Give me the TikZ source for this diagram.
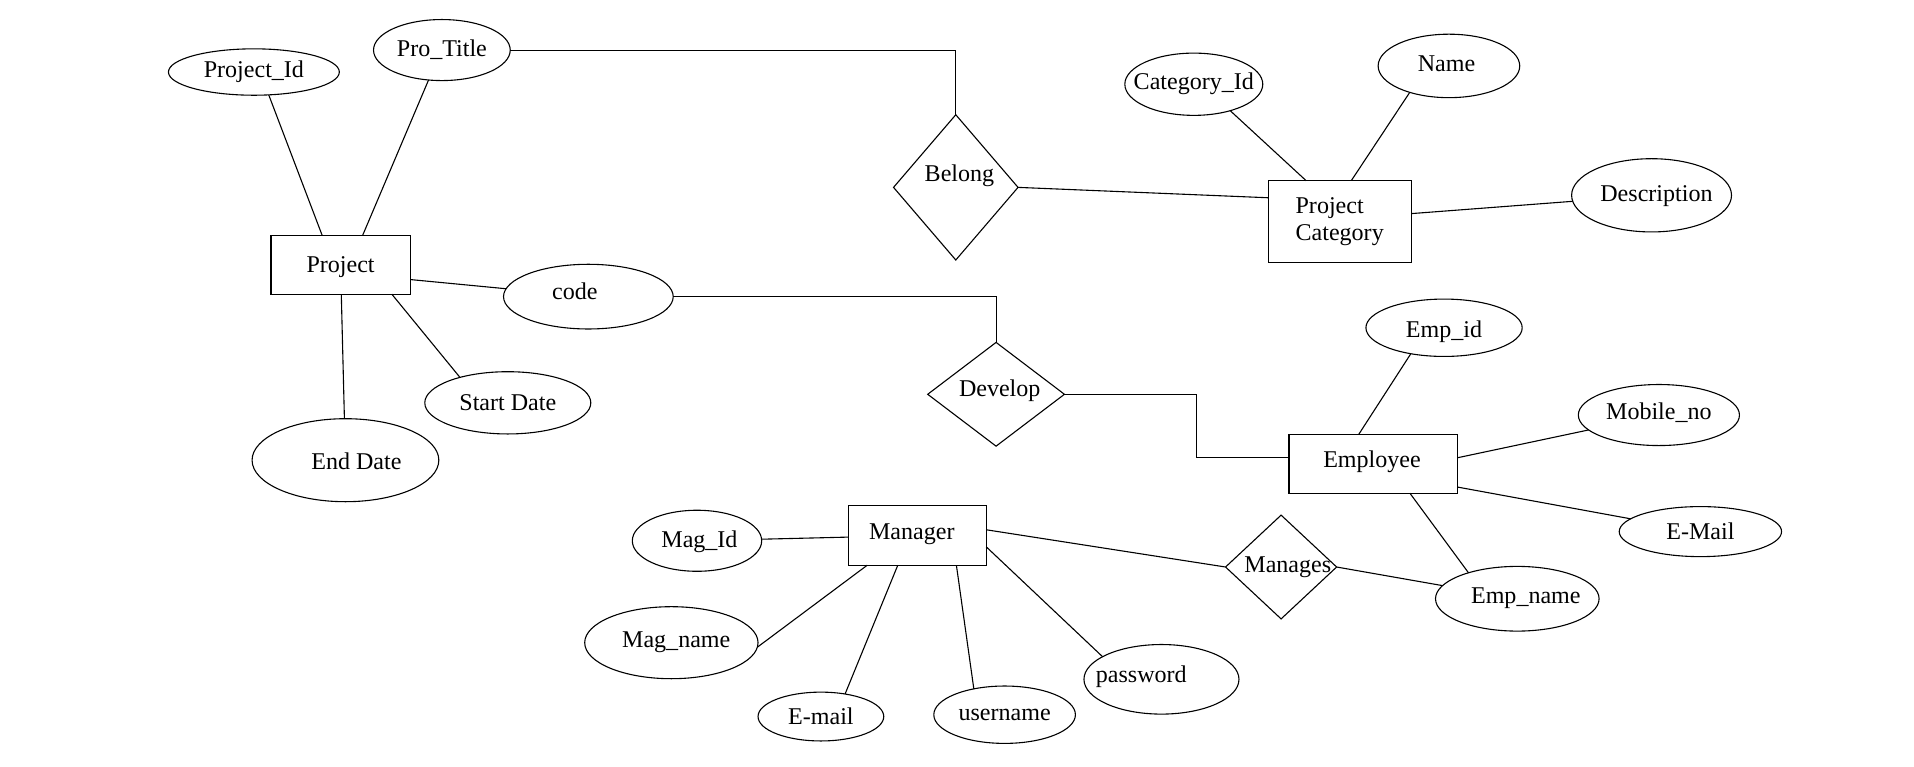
\documentclass[tikz,border=0pt]{standalone}
\usepackage{fontspec}
\setmainfont{Liberation Serif}
\usetikzlibrary{shapes.geometric}
\newdimen\ux \ux=0.5pt
\begin{document}
\begin{tikzpicture}[x=0.5pt,y=-0.5pt,
  every node/.style={font=\fontsize{9.85}{11}\selectfont, inner sep=0pt, outer sep=0pt},
  ln/.style={line width=0.45pt},
  sz/.style 2 args={minimum width=#1\ux, minimum height=#2\ux},
  attr/.style={draw, ellipse, line width=0.45pt},
  ent/.style={draw, rectangle, line width=0.45pt},
  rel/.style={draw, diamond, line width=0.45pt}
]
\useasboundingbox (0,0) rectangle (1568,628);

% Project and its attributes
\node[attr,sz={140}{38}] (pid) at (208,59) {Project\_Id};
\node[attr,sz={112}{50}] (ptitle) at (362,41) {Pro\_Title};
\node[ent,sz={114}{48}] (project) at (279,217) {};
\node (project-t) at (279,219) {Project};
\node[attr,sz={139}{53}] (code) at (482,243) {};
\node (code-t) at (471,239) {code};
\node[attr,sz={136}{51}] (sdate) at (416,330) {Start Date};
\node[attr,sz={153}{68}] (edate) at (283,377) {};
\node (edate-t) at (292,378) {End Date};

% Project category
\node[rel,sz={102}{119}] (belong) at (783,153.5) {};
\node (belong-t) at (786,144) {Belong};
\node[ent,sz={117}{67},align=left] (pcat) at (1097.5,181.5) {Project\\Category};
\node[attr,sz={113}{51}] (catid) at (978,69) {\makebox[0pt]{Category\_Id}};
\node[attr,sz={116}{52}] (name) at (1187,54) {};
\node (name-t) at (1185,52) {Name};
\node[attr,sz={131}{60}] (desc) at (1353,160) {};
\node (desc-t) at (1357,161) {Description};

% Employee
\node[rel,sz={112}{85}] (develop) at (816,323) {};
\node (develop-t) at (819,320) {Develop};
\node[ent,sz={138}{48}] (employee) at (1125,380) {};
\node (employee-t) at (1124,378) {Employee};
\node[attr,sz={128}{47}] (empid) at (1183,268.5) {};
\node (empid-t) at (1183,272) {Emp\_id};
\node[attr,sz={132}{50}] (mobile) at (1359,340) {};
\node (mobile-t) at (1359,338) {Mobile\_no};
\node[attr,sz={133}{41}] (empmail) at (1393,435.5) {E-Mail};
\node[attr,sz={134}{53}] (empname) at (1243,490.5) {};
\node (empname-t) at (1250,490) {Emp\_name};

% Manager
\node[rel,sz={91}{85}] (manages) at (1049.5,464.5) {};
\node (manages-t) at (1055,465) {Manages};
\node[ent,sz={113}{49}] (manager) at (751.5,438.5) {};
\node (manager-t) at (747,438) {Manager};
\node[attr,sz={106}{50}] (magid) at (571,443) {};
\node (magid-t) at (573,444) {Mag\_Id};
\node[attr,sz={142}{59}] (magname) at (550,526.5) {};
\node (magname-t) at (554,526) {Mag\_name};
\node[attr,sz={103}{40}] (mgmail) at (672.5,587) {E-mail};
\node[attr,sz={116}{47}] (user) at (823,585.5) {username};
\node[attr,sz={127}{57}] (pw) at (951.5,556.5) {};
\node (pw-t) at (935,554) {password};

% Connectors
\draw[ln] (pid.-57) -- ([xshift=-15\ux]project.north);
\draw[ln] (ptitle.-114) -- ([xshift=18\ux]project.north);
\draw[ln] ([yshift=-12\ux]project.east) -- (code);
\draw[ln] ([xshift=42\ux]project.south) -- (sdate.152);
\draw[ln] (project) -- (edate);
\draw[ln] (ptitle.east) -| (belong.north);
\draw[ln] (belong.east) -- ([yshift=19.5\ux]pcat.west);
\draw[ln] (catid.-36) -- ([xshift=-27.5\ux]pcat.north);
\draw[ln] (name.214) -- ([xshift=9.5\ux]pcat.north);
\draw[ln] ([yshift=6.5\ux]pcat.east) -- (desc);
\draw[ln] (code.east) -| (develop.north);
\draw[ln] (develop.east) -| ([xshift=-76\ux,yshift=5\ux]employee.west) -- ([yshift=5\ux]employee.west);
\draw[ln] (empid.218) -- ([xshift=-12\ux]employee.north);
\draw[ln] ([yshift=5\ux]employee.east) -- (mobile);
\draw[ln] ([yshift=-19\ux]employee.east) -- (empmail);
\draw[ln] ([xshift=30\ux]employee.south) -- (empname.152);
\draw[ln] ([yshift=4.5\ux]manager.east) -- (manages.west);
\draw[ln] (manages.east) -- (empname);
\draw[ln] (magid) -- ([yshift=-1.5\ux]manager.west);
\draw[ln] ([xshift=-41\ux]manager.south) -- (magname.-3);
\draw[ln] ([xshift=-16\ux]manager.south) -- (mgmail.43);
\draw[ln] ([xshift=32\ux]manager.south) -- (user.140);
\draw[ln] ([yshift=-9.5\ux]manager.east) -- (pw.159);
\end{tikzpicture}
\end{document}
